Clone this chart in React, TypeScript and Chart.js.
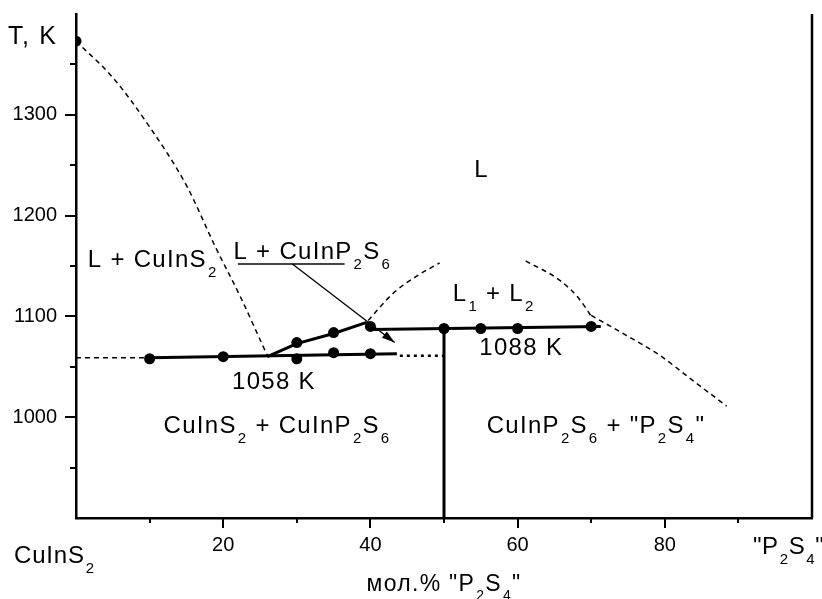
import React, { useEffect, useRef } from 'react';
import { Chart, registerables } from 'chart.js';

Chart.register(...registerables);

const FONT = '"Liberation Sans", Arial, Helvetica, sans-serif';

// ---- data (x: mol.% "P2S4", T: K) ----
const liquidusCuInS2X = [0, 5, 10, 15, 19, 22.3, 26];
const liquidusCuInS2T = [1373, 1337, 1288, 1230, 1168, 1120, 1061];
const miscibilityLeftX = [39.7, 43.1, 46.3, 49.4];
const miscibilityLeftT = [1096, 1123, 1140, 1153];
const miscibilityRightX = [61.1, 65.7, 68.3, 70.2];
const miscibilityRightT = [1155, 1136, 1118, 1098];
const liquidusP2S4X = [70, 74.7, 79.2, 83.7, 88.4];
const liquidusP2S4T = [1101, 1081.5, 1062, 1037, 1011];
const peritecticX = [26, 30, 35, 39.5];
const peritecticT = [1060, 1073, 1083, 1094];
const eutecticDashX = [0, 10];
const eutecticDashT = [1059, 1059];
const eutecticSolidX = [10, 43.6];
const eutecticSolidT = [1059, 1063];
const eutecticDotX = [44, 50];
const eutecticDotT = [1061, 1061];
const monotecticX = [40, 71.3];
const monotecticT = [1087, 1090];
const compoundX = [50, 50];
const compoundT = [1088, 900];
const measuredX = [0, 10, 20, 30, 35, 40, 30, 35, 40, 50, 55, 60, 70];
const measuredT = [1373, 1058, 1060, 1058, 1064, 1063, 1074, 1084, 1090, 1088, 1088, 1088, 1090];

// ticks
const xLabelTicks = [20, 40, 60, 80];
const xMinorTicks = [10, 30, 50, 70, 90];
const yLabelTicks = [1000, 1100, 1200, 1300];
const yMinorTicks = [950, 1050, 1150, 1250, 1350];

// region labels (data anchors: left, baseline)
const labelTexts = ['L', 'L + CuInS_2', 'L + CuInP_2S_6', 'L_1 + L_2', '1088 K', '1058 K', 'CuInS_2 + CuInP_2S_6', 'CuInP_2S_6 + "P_2S_4"'];
const labelX = [54.1, 1.6, 21.4, 51.2, 54.8, 21.2, 11.9, 55.8];
const labelT = [1238, 1149, 1156.5, 1115, 1062, 1028, 984, 984];

// arrow + underline for "L + CuInP2S6"
const underlineX = [22, 36.5];
const underlineT = [1152, 1152];
const arrowX = [29.4, 43.3];
const arrowT = [1152, 1074];

const pts = (xs: number[], ys: number[]) => xs.map((x, i) => ({ x, y: ys[i] }));

function parseRich(s: string) {
  const segs: { t: string; sub: boolean }[] = [];
  const parts = s.split(/_(\d)/);
  parts.forEach((p, i) => {
    if (p === '') return;
    segs.push({ t: p, sub: i % 2 === 1 });
  });
  return segs;
}

function drawRich(ctx: CanvasRenderingContext2D, text: string, x: number, y: number, size: number, spacing: number, align: 'left' | 'center' = 'left') {
  const segs = parseRich(text);
  ctx.save();
  ctx.fillStyle = '#000';
  ctx.textBaseline = 'alphabetic';
  ctx.textAlign = 'left';
  (ctx as any).letterSpacing = spacing + 'px';
  const subSize = Math.round(size * 0.62);
  let total = 0;
  const widths = segs.map((s) => {
    ctx.font = `${s.sub ? subSize : size}px ${FONT}`;
    const w = ctx.measureText(s.t).width + (s.sub ? 1 : 0);
    total += w;
    return w;
  });
  let cx = align === 'center' ? x - total / 2 : x;
  segs.forEach((s, i) => {
    ctx.font = `${s.sub ? subSize : size}px ${FONT}`;
    ctx.fillText(s.t, cx + (s.sub ? 1 : 0), s.sub ? y + size * 0.4 : y);
    cx += widths[i];
  });
  ctx.restore();
}

const overlayPlugin = {
  id: 'overlay',
  afterDraw(chart: any) {
    const { ctx, chartArea, scales } = chart;
    const xs = scales.x;
    const ys = scales.y;
    ctx.save();
    ctx.strokeStyle = '#000';
    ctx.lineWidth = 2;
    const seg = (x1: number, y1: number, x2: number, y2: number) => {
      ctx.beginPath();
      ctx.moveTo(x1, y1);
      ctx.lineTo(x2, y2);
      ctx.stroke();
    };
    xLabelTicks.forEach((v) => { const p = Math.round(xs.getPixelForValue(v)); seg(p, chartArea.bottom, p, chartArea.bottom + 10); });
    xMinorTicks.forEach((v) => { const p = Math.round(xs.getPixelForValue(v)); seg(p, chartArea.bottom, p, chartArea.bottom + 5); });
    yLabelTicks.forEach((v) => { const p = Math.round(ys.getPixelForValue(v)); seg(chartArea.left, p, chartArea.left - 11, p); });
    yMinorTicks.forEach((v) => { const p = Math.round(ys.getPixelForValue(v)); seg(chartArea.left, p, chartArea.left - 6, p); });
    // right frame line
    ctx.lineWidth = 2.5;
    seg(chartArea.right, chartArea.top, chartArea.right, chartArea.bottom);

    // underline + arrow
    ctx.strokeStyle = '#444';
    ctx.lineWidth = 2;
    seg(xs.getPixelForValue(underlineX[0]), ys.getPixelForValue(underlineT[0]), xs.getPixelForValue(underlineX[1]), ys.getPixelForValue(underlineT[1]));
    const ax1 = xs.getPixelForValue(arrowX[0]);
    const ay1 = ys.getPixelForValue(arrowT[0]);
    const ax2 = xs.getPixelForValue(arrowX[1]);
    const ay2 = ys.getPixelForValue(arrowT[1]);
    ctx.strokeStyle = '#000';
    ctx.lineWidth = 1.3;
    seg(ax1, ay1, ax2, ay2);
    const ang = Math.atan2(ay2 - ay1, ax2 - ax1);
    const hl = 13, hw = 4;
    ctx.fillStyle = '#000';
    ctx.beginPath();
    ctx.moveTo(ax2, ay2);
    ctx.lineTo(ax2 - hl * Math.cos(ang) + hw * Math.sin(ang), ay2 - hl * Math.sin(ang) - hw * Math.cos(ang));
    ctx.lineTo(ax2 - hl * Math.cos(ang) - hw * Math.sin(ang), ay2 - hl * Math.sin(ang) + hw * Math.cos(ang));
    ctx.closePath();
    ctx.fill();

    // region labels
    labelTexts.forEach((t, i) => {
      drawRich(ctx, t, xs.getPixelForValue(labelX[i]), ys.getPixelForValue(labelT[i]), 24, 1.3);
    });

    // axis-side labels
    drawRich(ctx, 'T, K', chartArea.left - 68, chartArea.top + 30, 25, 1.6);
    drawRich(ctx, 'CuInS_2', chartArea.left - 62, chartArea.bottom + 45, 24, 0.8);
    drawRich(ctx, '"P_2S_4"', chartArea.right - 59, chartArea.bottom + 36, 24, 0.6);
    drawRich(ctx, 'мол.% "P_2S_4"', xs.getPixelForValue(50), chartArea.bottom + 73, 23, 1.3, 'center');
    ctx.restore();
  },
};

export default function App() {
  const ref = useRef<HTMLCanvasElement | null>(null);
  useEffect(() => {
    if (!ref.current) return;
    const solid = { borderColor: '#000', borderWidth: 3, pointRadius: 0, showLine: true, fill: false };
    const dashed = { borderColor: '#000', borderWidth: 1.5, borderDash: [5, 4], pointRadius: 0, showLine: true, fill: false, cubicInterpolationMode: 'monotone' };
    const chart = new Chart(ref.current, {
      type: 'scatter',
      data: {
        datasets: [
          { ...dashed, data: pts(liquidusCuInS2X, liquidusCuInS2T) },
          { ...dashed, data: pts(miscibilityLeftX, miscibilityLeftT) },
          { ...dashed, data: pts(miscibilityRightX, miscibilityRightT) },
          { ...dashed, data: pts(liquidusP2S4X, liquidusP2S4T) },
          { ...dashed, data: pts(eutecticDashX, eutecticDashT) },
          { ...solid, borderWidth: 2.5, borderDash: [3, 4], data: pts(eutecticDotX, eutecticDotT) },
          { ...solid, data: pts(eutecticSolidX, eutecticSolidT) },
          { ...solid, data: pts(peritecticX, peritecticT) },
          { ...solid, data: pts(monotecticX, monotecticT) },
          { ...solid, data: pts(compoundX, compoundT) },
          { showLine: false, pointRadius: 5.5, pointBackgroundColor: '#000', pointBorderWidth: 0, data: pts(measuredX, measuredT) },
        ] as any,
      },
      options: {
        animation: false,
        responsive: false,
        layout: { padding: { top: 14, right: 10, left: 0, bottom: 0 } },
        plugins: { legend: { display: false }, tooltip: { enabled: false } },
        scales: {
          x: {
            type: 'linear',
            min: 0,
            max: 100,
            afterFit: (s: any) => { s.height = 81; s.paddingLeft = 0; s.paddingRight = 0; },
            afterBuildTicks: (s: any) => { s.ticks = xLabelTicks.map((v) => ({ value: v })); },
            ticks: { color: '#000', font: { family: FONT, size: 20 }, padding: 15, maxRotation: 0, autoSkip: false, callback: (v: any) => String(v) },
            grid: { display: true, drawOnChartArea: false, drawTicks: false },
            border: { display: true, color: '#000', width: 2.5 },
          },
          y: {
            type: 'linear',
            min: 900,
            max: 1400,
            afterFit: (s: any) => { s.width = 76; s.paddingTop = 0; s.paddingBottom = 0; },
            afterBuildTicks: (s: any) => { s.ticks = yLabelTicks.map((v) => ({ value: v })); },
            ticks: { color: '#000', font: { family: FONT, size: 20 }, padding: 19, autoSkip: false, callback: (v: any) => String(v) },
            grid: { display: true, drawOnChartArea: false, drawTicks: false },
            border: { display: true, color: '#000', width: 2.5 },
          },
        },
      } as any,
      plugins: [overlayPlugin],
    });
    return () => chart.destroy();
  }, []);
  return (
    <div style={{ position: 'fixed', left: 0, top: 0, width: 822, height: 599, background: '#fff' }}>
      <canvas ref={ref} width={822} height={599} style={{ width: 822, height: 599, display: 'block' }} />
    </div>
  );
}
